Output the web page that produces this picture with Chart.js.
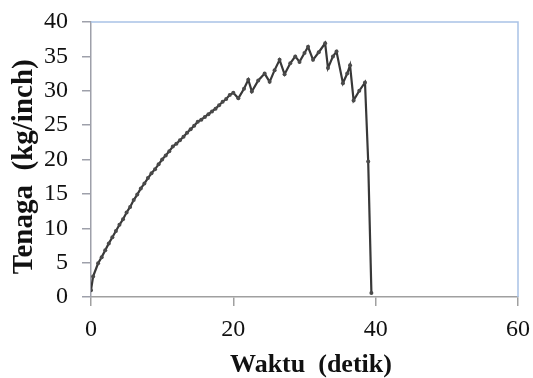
<!DOCTYPE html>
<html>
<head>
<meta charset="utf-8">
<script src="https://cdn.jsdelivr.net/npm/chart.js@4"></script>
<style>
html,body{margin:0;padding:0;background:#fff;}
#wrap{width:533px;height:378px;}
</style>
</head>
<body>
<div id="wrap"><canvas id="c" width="533" height="378"></canvas></div>
<script>
const timeSec = [0, 0.3, 1, 1.5, 2, 2.5, 3, 3.5, 4, 4.5, 5, 5.5, 6, 6.5, 7, 7.5, 8, 8.5, 9, 9.5, 10, 10.5, 11, 11.5, 12, 12.5, 13, 13.5, 14, 14.5, 15, 15.5, 16, 16.5, 17, 17.5, 18, 18.5, 19, 19.5, 20, 20.7, 21.5, 22.1, 22.6, 23.5, 24.4, 25.1, 25.8, 26.5, 27.2, 28, 28.7, 29.3, 30, 30.5, 31.2, 32, 32.9, 33.3, 34, 34.5, 35.4, 36, 36.4, 36.9, 37.7, 38.5, 38.95, 39.4];
const tenaga = [1, 3, 4.9, 5.8, 6.8, 7.8, 8.7, 9.6, 10.5, 11.3, 12.3, 13.1, 14.1, 14.9, 15.8, 16.5, 17.3, 18.0, 18.6, 19.3, 20.0, 20.6, 21.2, 21.9, 22.3, 22.8, 23.3, 23.9, 24.4, 24.9, 25.5, 25.8, 26.2, 26.6, 27.0, 27.4, 27.9, 28.4, 28.8, 29.4, 29.7, 28.9, 30.3, 31.6, 29.9, 31.5, 32.5, 31.3, 33.0, 34.5, 32.4, 34.0, 35.0, 34.2, 35.5, 36.4, 34.5, 35.6, 36.9, 33.3, 35.0, 35.7, 31.1, 32.5, 33.7, 28.6, 30.0, 31.2, 19.7, 0.6];
const xTicks = [0, 20, 40, 60];
const yTicks = [0, 5, 10, 15, 20, 25, 30, 35, 40];

const points = timeSec.map((t, i) => ({x: t, y: tenaga[i]}));

function noAutoPad(s) {
  s.paddingTop = 0; s.paddingBottom = 0; s.paddingLeft = 0; s.paddingRight = 0;
}

const frame = {
  id: 'frame',
  afterDraw(chart) {
    const a = chart.chartArea, ctx = chart.ctx;
    ctx.save();
    ctx.strokeStyle = '#a9c2e6';
    ctx.lineWidth = 1.5;
    ctx.beginPath();
    ctx.moveTo(a.left, a.top);
    ctx.lineTo(a.right, a.top);
    ctx.lineTo(a.right, a.bottom);
    ctx.stroke();
    ctx.restore();
  }
};

new Chart(document.getElementById('c'), {
  type: 'scatter',
  data: {
    datasets: [{
      data: points,
      showLine: true,
      borderColor: '#383838',
      backgroundColor: '#4a4a4a',
      borderWidth: 2.2,
      pointRadius: 2,
      pointHoverRadius: 2,
      pointBorderWidth: 0,
      tension: 0
    }]
  },
  options: {
    responsive: false,
    animation: false,
    devicePixelRatio: 1,
    layout: {padding: {left: 10, right: 15, top: 22, bottom: 0}},
    plugins: {legend: {display: false}, tooltip: {enabled: false}},
    scales: {
      x: {
        type: 'linear',
        min: 0, max: 60,
        afterBuildTicks(s) { s.ticks = xTicks.map(v => ({value: v})); },
        afterFit(s) { s.height = 81; noAutoPad(s); },
        grid: {drawOnChartArea: false, drawTicks: true, tickLength: 9, color: '#a0a0a0', lineWidth: 1.5},
        border: {display: true, color: '#a0a0a0', width: 1.5},
        ticks: {font: {family: 'Liberation Serif', size: 24}, color: '#111', padding: 9, maxRotation: 0},
        title: {display: true, text: '  Waktu  (detik)', font: {family: 'Liberation Serif', size: 26, weight: 'bold', lineHeight: 1}, color: '#111', padding: {top: 0, bottom: 0}}
      },
      y: {
        type: 'linear',
        min: 0, max: 40,
        afterBuildTicks(s) { s.ticks = yTicks.map(v => ({value: v})); },
        afterFit(s) { s.width = 81; noAutoPad(s); },
        grid: {drawOnChartArea: false, drawTicks: true, tickLength: 9, color: '#9ea0aa', lineWidth: 1.5},
        border: {display: true, color: '#9ea0aa', width: 1.5},
        ticks: {font: {family: 'Liberation Serif', size: 24}, color: '#111', padding: 14},
        title: {display: true, text: 'Tenaga  (kg/inch)  ', font: {family: 'Liberation Serif', size: 29, weight: 'bold', lineHeight: 1}, color: '#111', padding: {top: 0, bottom: 0}}
      }
    }
  },
  plugins: [frame]
});
</script>
</body>
</html>
